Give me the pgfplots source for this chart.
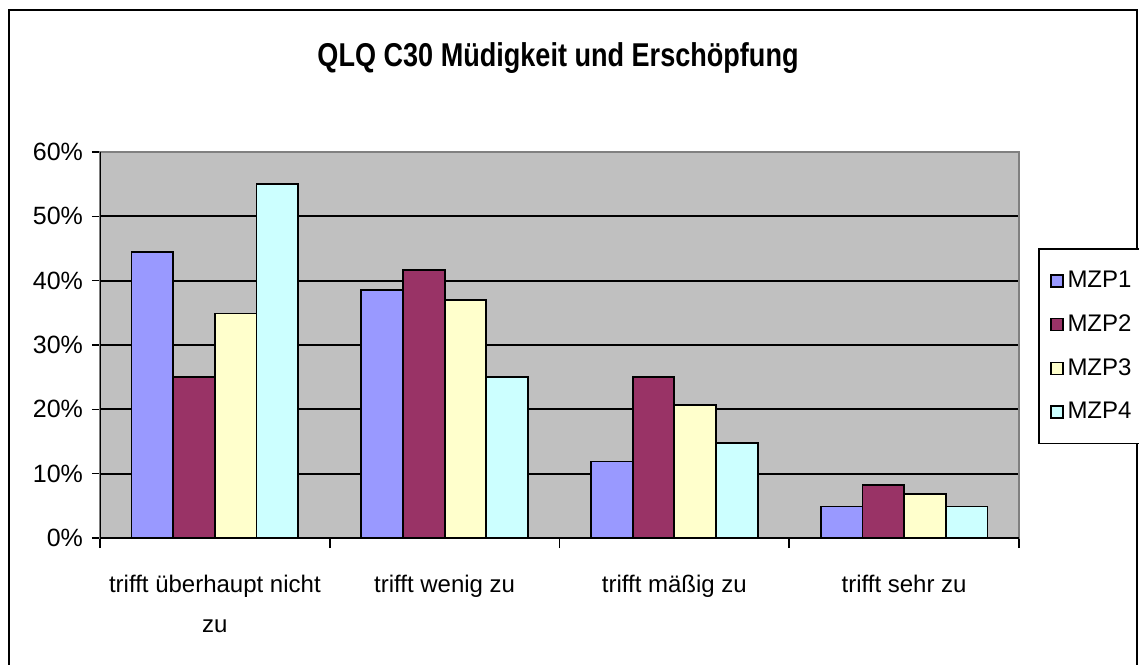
\documentclass[border=0pt]{standalone}
\usepackage{fontspec}
\setmainfont{Liberation Sans}
\usepackage{pgfplots}
\pgfplotsset{compat=1.18}
\definecolor{mzpa}{HTML}{9999FF}
\definecolor{mzpb}{HTML}{993366}
\definecolor{mzpc}{HTML}{FFFFCC}
\definecolor{mzpd}{HTML}{CCFFFF}
\definecolor{plotgray}{HTML}{C0C0C0}
\pgfplotsset{
  mzpbar/.style={fill=#1, draw=black, line width=0.9pt,
    legend image code/.code={\draw[fill=#1,draw=black,line width=0.7pt] (0pt,-3pt) rectangle (6pt,3pt);}},
}
\begin{document}
\begin{tikzpicture}
\useasboundingbox (0,0) rectangle (569.5pt,332pt);
\draw[line width=1pt] (4.5pt,-10pt) rectangle (568.5pt,327pt);
\node[font=\bfseries\fontsize{16.5}{18}\selectfont, anchor=base] at (279pt,298.7pt)
  {\scalebox{0.82}[1]{QLQ C30 Müdigkeit und Erschöpfung}};
\begin{axis}[
  at={(50pt,63pt)}, anchor=south west,
  scale only axis, width=459.5pt, height=193pt,
  ybar=0pt, bar width=20.85pt,
  xmin=-0.5, xmax=3.5, ymin=0, ymax=60,
  xtick={0,1,2,3},
  xticklabels={trifft überhaupt nicht\\zu, trifft wenig zu, trifft mäßig zu, trifft sehr zu},
  minor xtick={-0.5,0.5,1.5,2.5,3.5},
  major x tick style={draw=none},
  xtick pos=bottom, ytick pos=left,
  ytick={0,10,20,30,40,50,60},
  yticklabels={0\%,10\%,20\%,30\%,40\%,50\%,60\%},
  tick align=outside, major tick length=4pt, minor tick length=5pt,
  tick style={black, line width=0.8pt},
  ymajorgrids, grid style={black, line width=1pt},
  axis background/.style={fill=plotgray},
  axis line style={draw=black!50, line width=0.8pt},
  yticklabel style={font=\fontsize{12.5}{14}\selectfont, xshift=-1pt},
  xticklabel style={font=\fontsize{12}{20}\selectfont, align=center, yshift=-11pt},
  legend style={at={(1.021,0.7505)}, anchor=north west, draw=black, line width=0.8pt,
    fill=white, font=\fontsize{12}{13}\selectfont, row sep=8pt,
    inner xsep=5.5pt, inner ysep=9pt, cells={anchor=west}},
]
\addplot[mzpbar=mzpa] coordinates {(0,44.4) (1,38.5) (2,11.9) (3,4.9)};
\addplot[mzpbar=mzpb] coordinates {(0,25.0) (1,41.7) (2,25.0) (3,8.3)};
\addplot[mzpbar=mzpc] coordinates {(0,34.9) (1,37.0) (2,20.7) (3,6.9)};
\addplot[mzpbar=mzpd] coordinates {(0,55.0) (1,25.0) (2,14.8) (3,4.9)};
\legend{MZP1,MZP2,MZP3,MZP4}
\draw[black, line width=1pt] (rel axis cs:0,1) -- (rel axis cs:0,0) -- (rel axis cs:1,0);
\end{axis}
\end{tikzpicture}
\end{document}
